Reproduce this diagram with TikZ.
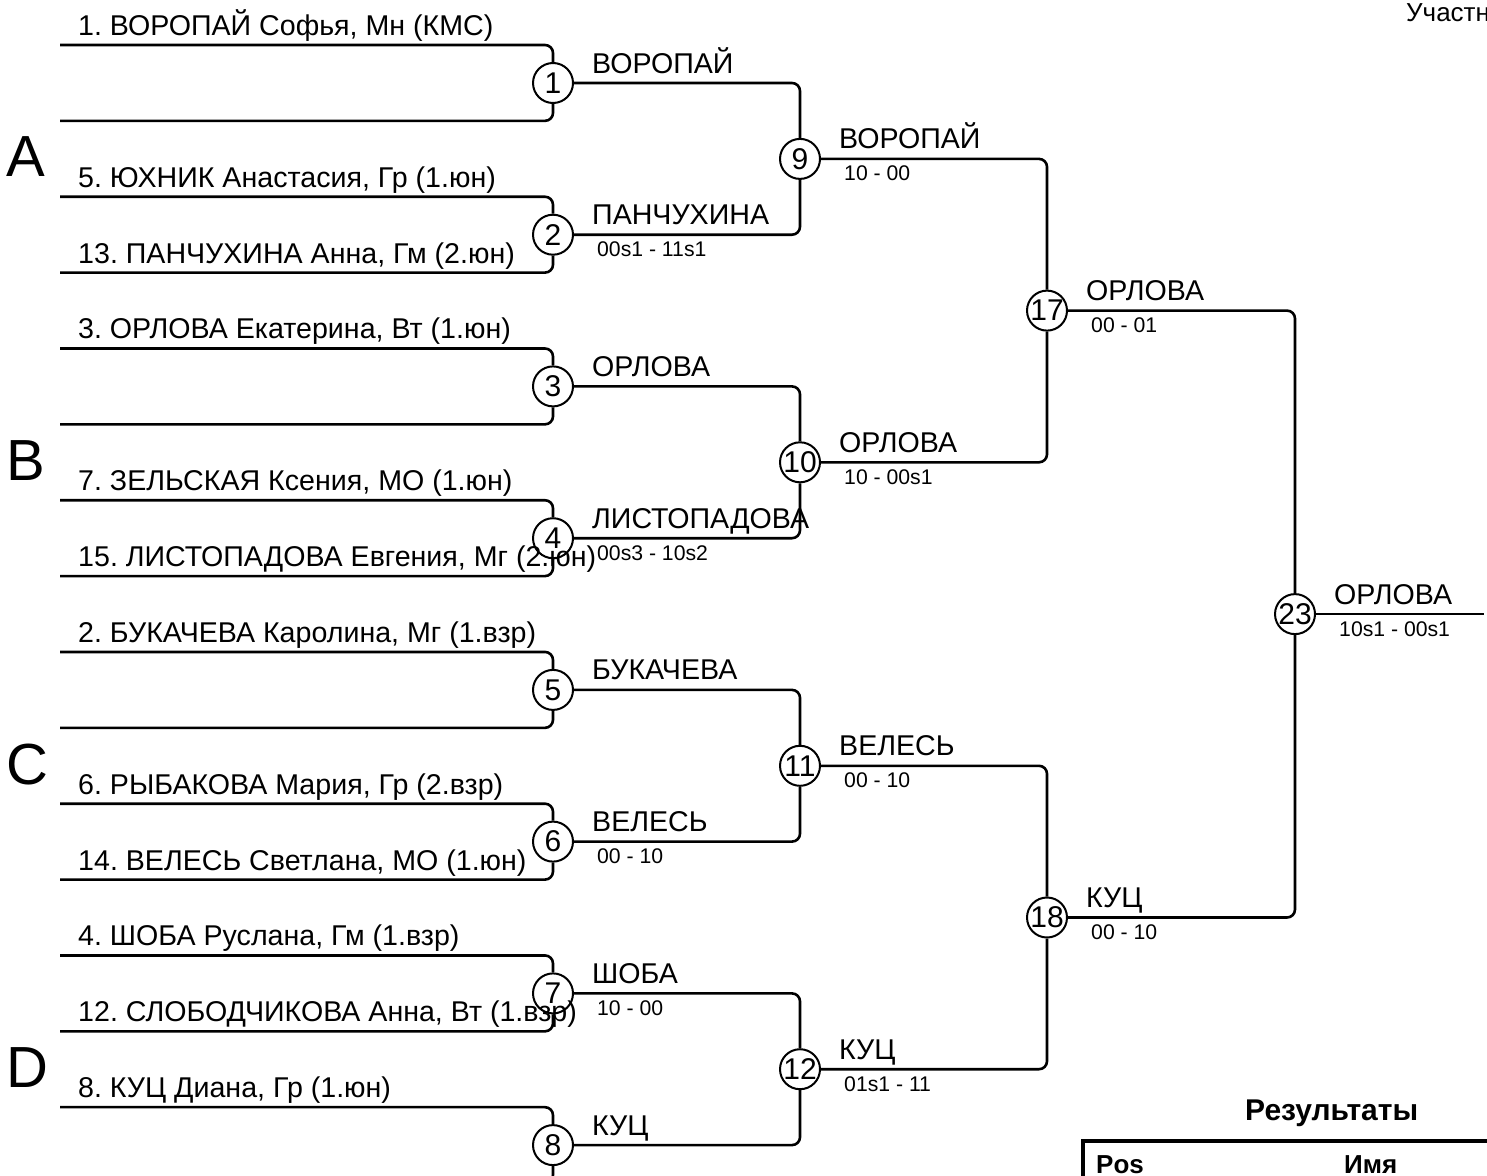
\documentclass[tikz,border=0pt]{standalone}
\usepackage{fontspec}
\setmainfont{Liberation Sans}
\usetikzlibrary{calc}
\frenchspacing
\begin{document}
\frenchspacing
\begin{tikzpicture}[x=1pt,y=-1pt,
  ln/.style={line width=2.6pt, rounded corners=8pt},
  mc/.style={circle, draw, line width=2pt, minimum size=40pt, inner sep=0pt, font=\fontsize{30}{30}\selectfont},
  pl/.style={anchor=base west, inner sep=0pt, font=\fontsize{28.6}{30}\selectfont},
  wn/.style={anchor=base west, inner sep=0pt, font=\fontsize{28.6}{30}\selectfont},
  sc/.style={anchor=base west, inner sep=0pt, font=\fontsize{21.2}{22}\selectfont},
  grp/.style={anchor=base west, inner sep=0pt, font=\fontsize{58}{58}\selectfont},
  hd/.style={anchor=base west, inner sep=0pt, font=\bfseries\fontsize{26}{28}\selectfont}]
\useasboundingbox (0,0) rectangle (1487,1175);
\clip (0,0) rectangle (1487,1175);

% player line start points
\foreach \i in {0,...,15}{
  \coordinate (p\i) at (60,{45+75.87*\i});
}

% match circles
\node[mc] (m1) at (553,83.0) {1};
\node[mc] (m2) at (553,234.7) {2};
\node[mc] (m3) at (553,386.4) {3};
\node[mc] (m4) at (553,538.2) {4};
\node[mc] (m5) at (553,689.9) {5};
\node[mc] (m6) at (553,841.6) {6};
\node[mc] (m7) at (553,993.4) {7};
\node[mc] (m8) at (553,1145.1) {8};
\node[mc] (m9) at (800,158.9) {9};
\node[mc] (m10) at (800,462.3) {10};
\node[mc] (m11) at (800,765.8) {11};
\node[mc] (m12) at (800,1069.2) {12};
\node[mc] (m17) at (1047,310.6) {17};
\node[mc] (m18) at (1047,917.5) {18};
\node[mc] (m23) at (1295,614.1) {23};
\coordinate (fin) at (1484,614.1);

% first round lines
\draw[ln] (p0) -| (m1.north);  \draw[ln] (p1) -| (m1.south);
\draw[ln] (p2) -| (m2.north);  \draw[ln] (p3) -| (m2.south);
\draw[ln] (p4) -| (m3.north);  \draw[ln] (p5) -| (m3.south);
\draw[ln] (p6) -| (m4.north);  \draw[ln] (p7) -| (m4.south);
\draw[ln] (p8) -| (m5.north);  \draw[ln] (p9) -| (m5.south);
\draw[ln] (p10) -| (m6.north); \draw[ln] (p11) -| (m6.south);
\draw[ln] (p12) -| (m7.north); \draw[ln] (p13) -| (m7.south);
\draw[ln] (p14) -| (m8.north); \draw[ln] (p15) -| (m8.south);

% later rounds
\draw[ln] (m1.east) -| (m9.north);  \draw[ln] (m2.east) -| (m9.south);
\draw[ln] (m3.east) -| (m10.north); \draw[ln] (m4.east) -| (m10.south);
\draw[ln] (m5.east) -| (m11.north); \draw[ln] (m6.east) -| (m11.south);
\draw[ln] (m7.east) -| (m12.north); \draw[ln] (m8.east) -| (m12.south);
\draw[ln] (m9.east) -| (m17.north); \draw[ln] (m10.east) -| (m17.south);
\draw[ln] (m11.east) -| (m18.north); \draw[ln] (m12.east) -| (m18.south);
\draw[ln] (m17.east) -| (m23.north); \draw[ln] (m18.east) -| (m23.south);
\draw[ln] (m23.east) -- (fin);

% player names
\node[pl] (n0) at ($(p0)+(18,-9.5)$) {1. ВОРОПАЙ Софья, Мн (КМС)};
\node[pl] (n2) at ($(p2)+(18,-9.5)$) {5. ЮХНИК Анастасия, Гр (1.юн)};
\node[pl] (n3) at ($(p3)+(18,-9.5)$) {13. ПАНЧУХИНА Анна, Гм (2.юн)};
\node[pl] (n4) at ($(p4)+(18,-9.5)$) {3. ОРЛОВА Екатерина, Вт (1.юн)};
\node[pl] (n6) at ($(p6)+(18,-9.5)$) {7. ЗЕЛЬСКАЯ Ксения, МО (1.юн)};
\node[pl] (n7) at ($(p7)+(18,-9.5)$) {15. ЛИСТОПАДОВА Евгения, Мг (2.юн)};
\node[pl] (n8) at ($(p8)+(18,-9.5)$) {2. БУКАЧЕВА Каролина, Мг (1.взр)};
\node[pl] (n10) at ($(p10)+(18,-9.5)$) {6. РЫБАКОВА Мария, Гр (2.взр)};
\node[pl] (n11) at ($(p11)+(18,-9.5)$) {14. ВЕЛЕСЬ Светлана, МО (1.юн)};
\node[pl] (n12) at ($(p12)+(18,-9.5)$) {4. ШОБА Руслана, Гм (1.взр)};
\node[pl] (n13) at ($(p13)+(18,-9.5)$) {12. СЛОБОДЧИКОВА Анна, Вт (1.взр)};
\node[pl] (n14) at ($(p14)+(18,-9.5)$) {8. КУЦ Диана, Гр (1.юн)};

% winners
\node[wn] (w1) at ($(m1)+(39,-10)$) {ВОРОПАЙ};
\node[wn] (w2) at ($(m2)+(39,-10)$) {ПАНЧУХИНА};
\node[sc] (s2) at ($(m2)+(44,22)$) {00s1 - 11s1};
\node[wn] (w3) at ($(m3)+(39,-10)$) {ОРЛОВА};
\node[wn] (w4) at ($(m4)+(39,-10)$) {ЛИСТОПАДОВА};
\node[sc] (s4) at ($(m4)+(44,22)$) {00s3 - 10s2};
\node[wn] (w5) at ($(m5)+(39,-10)$) {БУКАЧЕВА};
\node[wn] (w6) at ($(m6)+(39,-10)$) {ВЕЛЕСЬ};
\node[sc] (s6) at ($(m6)+(44,22)$) {00 - 10};
\node[wn] (w7) at ($(m7)+(39,-10)$) {ШОБА};
\node[sc] (s7) at ($(m7)+(44,22)$) {10 - 00};
\node[wn] (w8) at ($(m8)+(39,-10)$) {КУЦ};
\node[wn] (w9) at ($(m9)+(39,-10)$) {ВОРОПАЙ};
\node[sc] (s9) at ($(m9)+(44,22)$) {10 - 00};
\node[wn] (w10) at ($(m10)+(39,-10)$) {ОРЛОВА};
\node[sc] (s10) at ($(m10)+(44,22)$) {10 - 00s1};
\node[wn] (w11) at ($(m11)+(39,-10)$) {ВЕЛЕСЬ};
\node[sc] (s11) at ($(m11)+(44,22)$) {00 - 10};
\node[wn] (w12) at ($(m12)+(39,-10)$) {КУЦ};
\node[sc] (s12) at ($(m12)+(44,22)$) {01s1 - 11};
\node[wn] (w17) at ($(m17)+(39,-10)$) {ОРЛОВА};
\node[sc] (s17) at ($(m17)+(44,22)$) {00 - 01};
\node[wn] (w18) at ($(m18)+(39,-10)$) {КУЦ};
\node[sc] (s18) at ($(m18)+(44,22)$) {00 - 10};
\node[wn] (w23) at ($(m23)+(39,-10)$) {ОРЛОВА};
\node[sc] (s23) at ($(m23)+(44,22)$) {10s1 - 00s1};

% group letters
\node[grp] (gA) at (6,176) {A};
\node[grp] (gB) at (6,480) {B};
\node[grp] (gC) at (6,784) {C};
\node[grp] (gD) at (6,1087) {D};

% top right
\node[anchor=base west, inner sep=0pt, font=\fontsize{26}{28}\selectfont] (part) at (1406,21) {Участники};

% results table
\node[anchor=base west, inner sep=0pt, font=\bfseries\fontsize{30}{32}\selectfont] (res) at (1245,1120) {Результаты};
\coordinate (tl) at (1083,1141);
\coordinate (tb) at (1083,1200);
\coordinate (tr) at (1500,1141);
\draw[line width=4.5pt] (tb) -- (tl) -- (tr);
\node[hd] (hpos) at (1096,1173) {Pos};
\node[hd] (hname) at (1344,1173) {Имя};
\end{tikzpicture}
\end{document}
